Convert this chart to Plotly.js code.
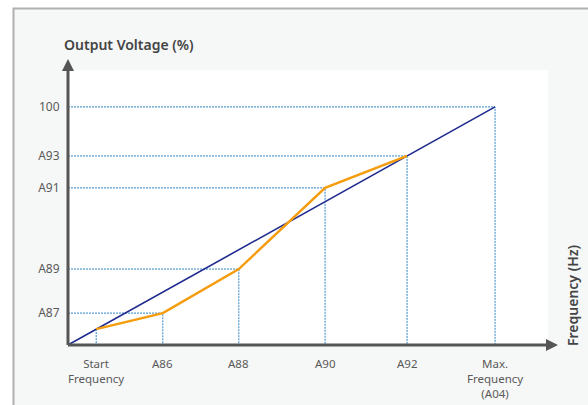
<!DOCTYPE html>
<html>
<head>
<meta charset="utf-8">
<script src="https://cdn.plot.ly/plotly-3.0.1.min.js"></script>
<style>html,body{margin:0;padding:0;background:#fff;}#chart{width:588px;height:405px;}</style>
</head>
<body>
<div id="chart"></div>
<script>
// Frequency positions (% of max frequency) and voltage levels (% of output)
const pointLabelsX = ["Start<br>Frequency", "A86", "A88", "A90", "A92", "Max.<br>Frequency<br>(A04)"];
const freqValues   = [6.6, 22.2, 40.0, 60.2, 79.4, 100];
const voltLabelsY  = ["A87", "A89", "A91", "A93", "100"];
const voltTicks    = [13.4, 31.9, 66.0, 79.4, 100];
// V/F curve (orange): start, A86/A87, A88/A89, A90/A91, A92/A93
const curveX = [6.6, 22.2, 40.0, 60.2, 79.4];
const curveY = [6.7, 13.4, 31.9, 66.0, 79.4];
// Linear reference (blue)
const linearX = [0, 100];
const linearY = [0, 100];
// Guide points (dotted projections)
const guideX = [6.6, 22.2, 40.0, 60.2, 79.4, 100];
const guideY = [6.7, 13.4, 31.9, 66.0, 79.4, 100];
const guideHorizontal = [false, true, true, true, true, true];

const XMAX = 112.4, YMAX = 115.5;
const guideColor = "#2f86c6";
const axisColor = "#555555";
const labelColor = "#5a5a5a";

const traces = [];
guideX.forEach((gx, i) => {
  const gy = guideY[i];
  const xs = guideHorizontal[i] ? [0, gx, gx] : [gx, gx];
  const ys = guideHorizontal[i] ? [gy, gy, 0] : [gy, 0];
  traces.push({x: xs, y: ys, mode: "lines", type: "scatter", hoverinfo: "skip",
    line: {color: guideColor, width: 1, dash: "2px,1px"}, showlegend: false});
});
traces.push({x: linearX, y: linearY, mode: "lines", type: "scatter",
  line: {color: "#1f2b8e", width: 1.6}, showlegend: false});
traces.push({x: curveX, y: curveY, mode: "lines", type: "scatter",
  line: {color: "#f59c0c", width: 2.4}, showlegend: false});

// plot area: x 68..548, y 70..345
const L = 68, R = 40, T = 70, B = 60, W = 480, H = 275;
const px = v => (v - L) / W;
const py = v => (345 - v) / H;

const shapes = [
  {type: "rect", xref: "paper", yref: "paper", x0: px(13.5), x1: px(600), y0: py(420), y1: py(8.5),
   fillcolor: "#f6f7f7", line: {color: "#b0b0b0", width: 2}, layer: "below"},
  {type: "rect", xref: "paper", yref: "paper", x0: 0, x1: 1, y0: 0, y1: 1,
   fillcolor: "#ffffff", line: {width: 0}, layer: "below"},
  // axes
  {type: "line", xref: "paper", yref: "paper", x0: 0, x1: 0, y0: 0, y1: py(68), line: {color: axisColor, width: 3}},
  {type: "line", xref: "paper", yref: "paper", x0: 0, x1: px(550), y0: 0, y1: 0, line: {color: axisColor, width: 3}},
  {type: "path", xref: "paper", yref: "paper",
   path: `M ${px(68)} ${py(59)} L ${px(62)} ${py(71)} L ${px(74)} ${py(71)} Z`,
   fillcolor: axisColor, line: {width: 0}},
  {type: "path", xref: "paper", yref: "paper",
   path: `M ${px(558)} ${py(345)} L ${px(546)} ${py(339)} L ${px(546)} ${py(351)} Z`,
   fillcolor: axisColor, line: {width: 0}}
];

const font = "'Noto Sans', 'Open Sans', sans-serif";
const annotations = [
  {text: "Output Voltage (%)", xref: "paper", yref: "paper", x: px(62), y: py(44),
   xanchor: "left", yanchor: "middle", showarrow: false,
   font: {family: font, size: 14, color: "#444", weight: 600}},
  {text: "Frequency (Hz)", xref: "paper", yref: "paper", x: px(561), y: py(348),
   xanchor: "left", yanchor: "bottom", textangle: -90, showarrow: false,
   font: {family: font, size: 14, color: "#444", weight: 600}}
];
pointLabelsX.forEach((lab, i) => {
  annotations.push({text: lab, xref: "x", yref: "paper", x: freqValues[i], y: py(354),
    xanchor: "center", yanchor: "top", showarrow: false,
    font: {family: font, size: 11.5, color: labelColor}});
});

const layout = {
  width: 588, height: 405,
  margin: {l: L, r: R, t: T, b: B},
  paper_bgcolor: "#ffffff", plot_bgcolor: "rgba(0,0,0,0)",
  showlegend: false,
  xaxis: {range: [0, XMAX], showgrid: false, zeroline: false, showline: false,
    showticklabels: false, ticks: "", fixedrange: true},
  yaxis: {range: [0, YMAX], showgrid: false, zeroline: false, showline: false,
    tickmode: "array", tickvals: voltTicks, ticktext: voltLabelsY,
    ticks: "outside", ticklen: 5, tickcolor: "rgba(0,0,0,0)",
    tickfont: {family: font, size: 12, color: labelColor}, fixedrange: true},
  shapes: shapes,
  annotations: annotations
};

Plotly.newPlot("chart", traces, layout, {displayModeBar: false, staticPlot: true});
</script>
</body>
</html>
